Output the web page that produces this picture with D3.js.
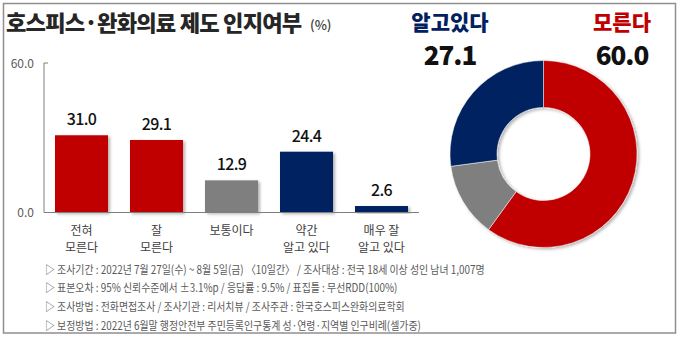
<!DOCTYPE html>
<html>
<head>
<meta charset="utf-8">
<script src="https://cdn.jsdelivr.net/npm/d3@7"></script>
<style>
  html, body { margin: 0; padding: 0; background: #fff; }
  svg { display: block; }
  text { font-family: "Noto Sans CJK KR", "Noto Sans", sans-serif; }
</style>
</head>
<body>
<svg id="chart" width="680" height="338"></svg>
<script>
// Survey: awareness of hospice & palliative care system (%)
const categories = [["전혀", "모른다"], ["잘", "모른다"], ["보통이다"], ["약간", "알고 있다"], ["매우 잘", "알고 있다"]];
const values = [31.0, 29.1, 12.9, 24.4, 2.6];
const barColors = ["#C00000", "#C00000", "#7F7F7F", "#002060", "#002060"];
const yTicks = [0, 60];

const donutLabels = ["모른다", "보통이다", "알고있다"];
const donutValues = [60.0, 12.9, 27.1];
const donutColors = ["#C00000", "#7F7F7F", "#002060"];

const notes = [
  "▷ 조사기간 : 2022년 7월 27일(수) ~ 8월 5일(금) 〈10일간〉 / 조사대상 : 전국 18세 이상 성인 남녀 1,007명",
  "▷ 표본오차 : 95% 신뢰수준에서 ±3.1%p / 응답률 : 9.5% / 표집틀 : 무선RDD(100%)",
  "▷ 조사방법 : 전화면접조사 / 조사기관 : 리서치뷰 / 조사주관 : 한국호스피스완화의료학회",
  "▷ 보정방법 : 2022년 6월말 행정안전부 주민등록인구통계 성·연령·지역별 인구비례(셀가중)"
];

const svg = d3.select("#chart");

// soft shadow used by bars and ring
const defs = svg.append("defs");
const f = defs.append("filter").attr("id", "shadow")
  .attr("x", "-10%").attr("y", "-10%").attr("width", "130%").attr("height", "130%");
f.append("feDropShadow").attr("dx", 2).attr("dy", 1.5).attr("stdDeviation", 1.4)
  .attr("flood-color", "#000").attr("flood-opacity", 0.3);

// outer frame
svg.append("rect").attr("x", 3.5).attr("y", 3.5).attr("width", 672).attr("height", 329.5)
  .attr("fill", "none").attr("stroke", "#8f8f8f").attr("stroke-width", 1.5);

// title, sized so it spans 296px
const title = svg.append("text").attr("x", 6).attr("y", 31)
  .attr("font-size", 23).attr("font-weight", 900).attr("fill", "#262626")
  .attr("letter-spacing", -0.8)
  .text("호스피스·완화의료 제도 인지여부");
{
  const w = title.node().getComputedTextLength();
  if (w > 296) title.attr("font-size", 23 * 296 / w);
}
svg.append("text").attr("x", 310).attr("y", 29.5)
  .attr("font-size", 13).attr("font-weight", 500).attr("fill", "#404040").text("(%)");

// bar chart
const x = d3.scaleBand().domain(d3.range(values.length)).range([44, 419])
  .paddingInner(0.293).paddingOuter(0.1465);
const y = d3.scaleLinear().domain([0, 60]).range([212.5, 63]);

const g = svg.append("g");

// axis lines
g.append("line").attr("x1", 44).attr("x2", 44).attr("y1", y(60)).attr("y2", y(0))
  .attr("stroke", "#7f7f7f").attr("stroke-width", 1);
g.append("line").attr("x1", 44).attr("x2", 48).attr("y1", y(60)).attr("y2", y(60))
  .attr("stroke", "#7f7f7f").attr("stroke-width", 1);

g.selectAll(".ytick").data(yTicks).join("text").attr("class", "ytick")
  .attr("x", 34).attr("y", d => y(d) + 4.5).attr("text-anchor", "end")
  .attr("font-size", 12).attr("fill", "#595959")
  .text(d => d3.format(".1f")(d));

g.selectAll(".bar").data(values).join("rect").attr("class", "bar")
  .attr("x", (d, i) => x(i)).attr("width", x.bandwidth())
  .attr("y", d => y(d)).attr("height", d => y(0) - y(d))
  .attr("fill", (d, i) => barColors[i]).attr("filter", "url(#shadow)");

g.append("line").attr("x1", 44).attr("x2", 419).attr("y1", y(0)).attr("y2", y(0))
  .attr("stroke", "#7f7f7f").attr("stroke-width", 1);

g.selectAll(".val").data(values).join("text").attr("class", "val")
  .attr("x", (d, i) => x(i) + x.bandwidth() / 2).attr("y", d => y(d) - 10)
  .attr("text-anchor", "middle").attr("font-size", 16).attr("font-weight", 500)
  .attr("letter-spacing", -0.6).attr("fill", "#111")
  .text(d => d3.format(".1f")(d));

const cat = g.selectAll(".cat").data(categories).join("text").attr("class", "cat")
  .attr("text-anchor", "middle").attr("font-size", 12).attr("fill", "#404040");
cat.selectAll("tspan").data((d, i) => d.map(t => ({ t, i })))
  .join("tspan")
  .attr("x", d => x(d.i) + x.bandwidth() / 2)
  .attr("y", (d, j) => 235 + j * 17)
  .text(d => d.t);

// donut chart
const cx = 543.5, cy = 154;
const pie = d3.pie().sort(null).value(d => d)(donutValues);
const arc = d3.arc().innerRadius(46.5).outerRadius(93.5);
svg.append("g").attr("transform", `translate(${cx},${cy})`)
  .attr("filter", "url(#shadow)")
  .selectAll("path").data(pie).join("path")
  .attr("d", arc).attr("fill", (d, i) => donutColors[i])
  .attr("stroke", "#fff").attr("stroke-width", 0.5);

// donut headline numbers
const heads = [
  { label: donutLabels[2], value: donutValues[2], color: "#002060", x: 450 },
  { label: donutLabels[0], value: donutValues[0], color: "#C00000", x: 622 }
];
heads.forEach(h => {
  svg.append("text").attr("x", h.x).attr("y", 29.5).attr("text-anchor", "middle")
    .attr("font-size", 21).attr("font-weight", 900).attr("fill", h.color).text(h.label);
  svg.append("text").attr("x", h.x).attr("y", 65).attr("text-anchor", "middle")
    .attr("font-size", 26).attr("font-weight", 900).attr("letter-spacing", -1)
    .attr("fill", "#111").text(d3.format(".1f")(h.value));
});

// survey notes, set in a condensed width
const noteText = svg.selectAll(".note").data(notes).join("text").attr("class", "note")
  .attr("x", 45).attr("y", (d, i) => 273.5 + i * 18.7)
  .attr("font-size", 11.5).attr("fill", "#595959")
  .text(d => d);
noteText.each(function () {
  const w = this.getComputedTextLength();
  d3.select(this).attr("textLength", w * 0.86).attr("lengthAdjust", "spacingAndGlyphs");
});
</script>
</body>
</html>
